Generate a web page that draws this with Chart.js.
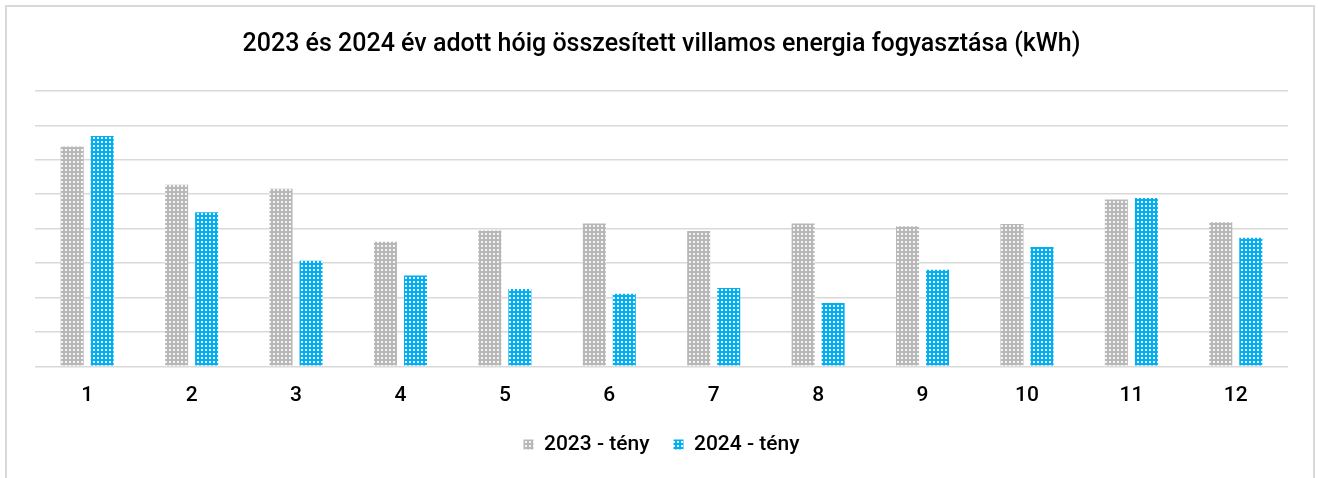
<!DOCTYPE html>
<html>
<head>
<meta charset="utf-8">
<script src="https://cdn.jsdelivr.net/npm/chart.js@4"></script>
<style>
  html, body { margin: 0; padding: 0; background: #fff; overflow: hidden; }
  #frame { position: absolute; left: 5px; top: 5px; width: 1310px; height: 520px; border: 2px solid #d9d9d9; box-sizing: border-box; }
  #c { position: absolute; left: 0; top: 0; }
</style>
</head>
<body>
<div id="frame"></div>
<canvas id="c" width="1318" height="478"></canvas>
<script>
const categories = ['1', '2', '3', '4', '5', '6', '7', '8', '9', '10', '11', '12'];
const series2023 = [6390, 5280, 5160, 3620, 3950, 4150, 3930, 4150, 4070, 4140, 4850, 4190];
const series2024 = [6690, 4480, 3070, 2640, 2250, 2110, 2280, 1840, 2810, 3470, 4890, 3740];
const seriesLabels = ['2023 - tény', '2024 - tény'];
const titleText = '2023 és 2024 év adott hóig összesített villamos energia fogyasztása (kWh)';

function makePattern(base, dotColor) {
  const p = document.createElement('canvas');
  p.width = 4; p.height = 4;
  const g = p.getContext('2d');
  g.fillStyle = base; g.fillRect(0, 0, 4, 4);
  g.fillStyle = dotColor; g.fillRect(1, 1, 2, 2);
  return g.createPattern(p, 'repeat');
}
const ctx = document.getElementById('c').getContext('2d');
const grayPat = makePattern('#b8b8b8', 'rgba(255,255,255,0.85)');
const bluePat = makePattern('#00b0f0', 'rgba(255,255,255,0.95)');

const FONT = 'Roboto, "Noto Sans", sans-serif';

new Chart(ctx, {
  type: 'bar',
  data: {
    labels: categories,
    datasets: [
      { label: seriesLabels[0], data: series2023, backgroundColor: grayPat, borderWidth: 0, categoryPercentage: 0.575, barPercentage: 0.767 },
      { label: seriesLabels[1], data: series2024, backgroundColor: bluePat, borderWidth: 0, categoryPercentage: 0.575, barPercentage: 0.767 }
    ]
  },
  options: {
    responsive: false,
    animation: false,
    devicePixelRatio: 1,
    layout: { padding: { left: 35, right: 30, top: 0, bottom: 13 } },
    plugins: {
      title: {
        display: true,
        text: titleText,
        color: '#000',
        font: { family: FONT, size: 25, weight: 500 },
        padding: { top: 30, bottom: 31 }
      },
      legend: {
        display: true,
        position: 'bottom',
        labels: {
          color: '#000',
          font: { family: FONT, size: 21, weight: 500 },
          boxWidth: 10,
          boxHeight: 10,
          padding: 24
        }
      },
      tooltip: { enabled: false }
    },
    scales: {
      x: {
        grid: { display: false },
        border: { display: false },
        ticks: { color: '#000', font: { family: FONT, size: 21, weight: 500 }, padding: 9 },
        afterFit: (s) => { s.height = 43.6; }
      },
      y: {
        min: 0,
        max: 8000,
        ticks: { display: false, stepSize: 1000 },
        grid: { color: '#d9d9d9', lineWidth: 1.6, drawTicks: false },
        border: { display: false }
      }
    }
  }
});
</script>
</body>
</html>
